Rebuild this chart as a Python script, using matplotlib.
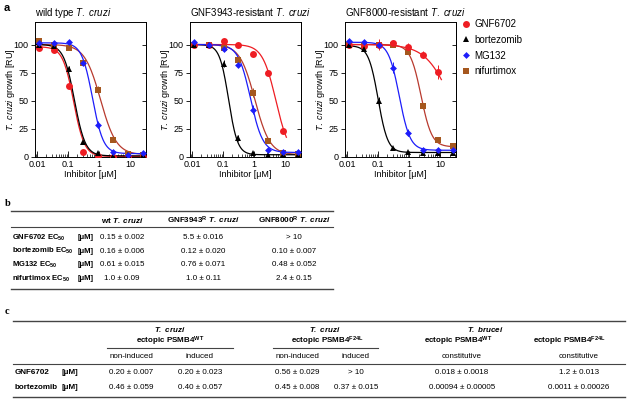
import numpy as np
import matplotlib
matplotlib.use("Agg")
import matplotlib.pyplot as plt
from matplotlib.lines import Line2D

plt.rcParams['font.family'] = ['Liberation Sans', 'DejaVu Sans']
plt.rcParams['mathtext.fontset'] = 'custom'
plt.rcParams['mathtext.rm'] = 'Liberation Sans'
plt.rcParams['mathtext.it'] = 'Liberation Sans:italic'
plt.rcParams['mathtext.bf'] = 'Liberation Sans:bold'
plt.rcParams['mathtext.bfit'] = 'Liberation Sans:italic:bold'

# ---- panel a data ----
compounds = ['GNF6702', 'bortezomib', 'MG132', 'nifurtimox']
conc = [0.0114, 0.0343, 0.103, 0.309, 0.926, 2.78, 8.33, 25.0]   # inhibitor [uM]
panel_titles = [r'wild type $\it{T.\ cruzi}$',
                r'GNF3943-resistant $\it{T.\ cruzi}$',
                r'GNF8000-resistant $\it{T.\ cruzi}$']

# growth [RU], one row per compound (nan = not measured)
growth_wt = [
    [97.3, 95.0, 63.0, 4.5, 0.5, 0.3, 0.3, 0.3],
    [100.0, 98.5, 78.6, 13.4, 3.6, 1.0, 1.5, 1.5],
    [101.5, 101.5, 102.4, 83.7, 28.8, 4.5, 2.0, 3.6],
    [103.0, 100.0, 97.3, 84.0, 60.0, 15.4, 2.5, 2.0],
]
growth_gnf3943r = [
    [100.0, 100.0, 103.0, 99.4, 92.0, 75.0, 23.0, np.nan],
    [99.4, 99.4, 83.0, 17.0, 3.6, 2.0, 2.0, 2.0],
    [102.0, 99.4, 96.4, 82.0, 42.0, 6.0, 4.5, 4.5],
    [100.0, 99.4, 97.0, 86.6, 57.0, 14.0, 3.6, 2.5],
]
growth_gnf8000r = [
    [99.4, 98.5, 100.0, 101.0, 97.5, 91.0, 75.5, np.nan],
    [99.4, 96.4, 49.6, 8.0, 4.5, 3.6, 3.6, 3.6],
    [103.0, 102.0, 100.0, 79.5, 21.7, 6.5, 6.0, 6.0],
    [100.0, 100.0, 100.0, 100.0, 93.4, 45.4, 14.8, 9.5],
]
err_wt = [
    [1, 1, 2, 1, 0, 0, 0, 0],
    [1, 1, 2, 1, 1, 0, 0, 0],
    [1, 1, 1, 2, 3, 1, 1, 1],
    [1, 1, 2, 1, 3, 1, 0, 0],
]
err_gnf3943r = [
    [1, 1, 1, 1, 1, 1, 1, 0],
    [1, 1, 3, 3, 1, 0, 0, 0],
    [1, 1, 2, 2, 4, 2, 1, 1],
    [1, 1, 1, 1, 4, 1, 1, 0],
]
err_gnf8000r = [
    [1, 1, 5, 1, 4, 3, 6, 0],
    [1, 1, 4, 1, 1, 0, 0, 0],
    [1, 1, 1, 5, 3, 1, 1, 1],
    [1, 1, 1, 1, 2, 3, 1, 1],
]
# dose-response fits: top, bottom, EC50 [uM], Hill slope
fit_wt = [[98, 0.5, 0.15, 2.5], [100, 1, 0.16, 2.5], [101.5, 3, 0.61, 2.5], [100, 2, 1.1, 1.7]]
fit_gnf3943r = [[100, 0, 5.0, 2.0], [100, 2, 0.15, 3.0], [100, 4, 0.76, 2.2], [100, 2, 1.05, 1.8]]
fit_gnf8000r = [[100, 0, 23, 1.05], [99, 4, 0.10, 2.8], [102, 6, 0.48, 2.5], [100, 9, 2.4, 2.5]]

# ---- panel b data ----
b_rows = ['GNF6702', 'bortezomib', 'MG132', 'nifurtimox']
b_values = [
    ['0.15 ± 0.002', '5.5 ± 0.016', '> 10'],
    ['0.16 ± 0.006', '0.12 ± 0.020', '0.10 ± 0.007'],
    ['0.61 ± 0.015', '0.76 ± 0.071', '0.48 ± 0.052'],
    ['1.0 ± 0.09', '1.0 ± 0.11', '2.4 ± 0.15'],
]

# ---- panel c data ----
c_rows = ['GNF6702', 'bortezomib']
c_subheads = ['non-induced', 'induced', 'non-induced', 'induced', 'constitutive', 'constitutive']
c_values = [
    ['0.20 ± 0.007', '0.20 ± 0.023', '0.56 ± 0.029', '> 10', '0.018 ± 0.0018', '1.2 ± 0.013'],
    ['0.46 ± 0.059', '0.40 ± 0.057', '0.45 ± 0.008', '0.37 ± 0.015', '0.00094 ± 0.00005', '0.0011 ± 0.00026'],
]

colors = ['#ee1d23', 'black', '#1d1dfa', '#a5571e']
line_colors = ['#ee1d23', 'black', '#1d1dfa', '#b83a2e']
markers = ['o', '^', 'D', 's']
msizes = [5, 5, 3.5, 4.5]

W, H = 627, 404


def fx(x):
    return x / W


def fy(y):
    return 1 - y / H


def hill(x, top, bottom, ec50, h):
    return bottom + (top - bottom) / (1 + (x / ec50) ** h)


def hline(fig, x0, x1, y, lw=0.8, color='#444444'):
    fig.add_artist(Line2D([fx(x0), fx(x1)], [fy(y), fy(y)],
                          transform=fig.transFigure, color=color, lw=lw))


fig = plt.figure(figsize=(6.27, 4.04), dpi=100)

growths = [growth_wt, growth_gnf3943r, growth_gnf8000r]
errs = [err_wt, err_gnf3943r, err_gnf8000r]
fits = [fit_wt, fit_gnf3943r, fit_gnf8000r]
conc_arr = np.array(conc)

for p, left in enumerate([35, 190, 345]):
    ax = fig.add_axes([fx(left), fy(157), 111 / W, 135 / H])
    for k in [3, 0, 1, 2]:
        vals = np.array(growths[p][k], dtype=float)
        ok = ~np.isnan(vals)
        xmax = min(conc_arr[ok][-1] * 1.3, 32)
        xs = np.logspace(np.log10(0.0086), np.log10(xmax), 200)
        ax.plot(xs, hill(xs, *fits[p][k]), color=line_colors[k], lw=0.9, zorder=2)
    for k in [3, 0, 1, 2]:
        vals = np.array(growths[p][k], dtype=float)
        ok = ~np.isnan(vals)
        ax.errorbar(conc_arr[ok], vals[ok], yerr=np.array(errs[p][k])[ok],
                    fmt=markers[k], color=colors[k], ms=msizes[k], mew=0,
                    elinewidth=0.7, capsize=1.5, capthick=0.7, zorder=3)
    ax.set_xscale('log')
    ax.set_xlim(0.0086, 32)
    ax.set_ylim(0, 120)
    ax.set_xticks([0.01, 0.1, 1, 10])
    ax.set_xticklabels(['0.01', '0.1', '1', '10'])
    ax.set_yticks([0, 25, 50, 75, 100])
    ax.tick_params(axis='x', which='major', direction='in', length=4, width=0.6,
                   labelsize=6.5, pad=2)
    ax.tick_params(axis='x', which='minor', direction='in', length=2.5, width=0.5)
    ax.tick_params(axis='y', direction='out', length=3, width=0.6, labelsize=6.5, pad=1.5)
    sec = ax.secondary_yaxis('right')
    sec.set_yticks([0, 25, 50, 75, 100])
    sec.tick_params(direction='in', length=3, width=0.6, labelright=False)
    for s in ax.spines.values():
        s.set_linewidth(0.7)
    sec.spines['right'].set_linewidth(0.7)
    ax.set_title(panel_titles[p], loc='left', fontsize=7, pad=4)
    ax.set_xlabel('Inhibitor [μM]', fontsize=6.5, labelpad=1)
    ax.set_ylabel(r'$\it{T.\ cruzi}$ growth [RU]', fontsize=6.5)
    ax.yaxis.set_label_coords(-0.165, 0.5)

fig.text(fx(4), fy(8), 'a', weight='bold', fontsize=8, va='center')

handles = [Line2D([], [], ls='none', marker=markers[k], color=colors[k], ms=msizes[k], mew=0)
           for k in range(4)]
fig.legend(handles, compounds, loc='upper left', bbox_to_anchor=(fx(462), fy(19)),
           frameon=False, fontsize=7, handlelength=0.8, handletextpad=0.5,
           labelspacing=0.6, borderaxespad=0, borderpad=0)

# ---- table b ----
tfs = 5.8
fig.text(fx(5), fy(204), 'b', family='Liberation Serif', weight='bold', fontsize=7.5, va='center')
hline(fig, 11, 333, 210.5, lw=1.0)
hline(fig, 11, 333, 227.5, lw=0.8)
hline(fig, 11, 333, 289, lw=1.0)
b_heads = [r'wt $\mathbfit{T.\ cruzi}$',
           r'GNF3943$^{\mathbf{R}}$ $\mathbfit{T.\ cruzi}$',
           r'GNF8000$^{\mathbf{R}}$ $\mathbfit{T.\ cruzi}$']
b_xs = [122, 203, 294]
for x, t in zip(b_xs, b_heads):
    fig.text(fx(x), fy(220), t, ha='center', va='center', fontsize=tfs, weight='bold')
for i, y in enumerate([237.5, 251.2, 265, 278.5]):
    fig.text(fx(12), fy(y), b_rows[i] + r' EC$_{\mathbf{50}}$', ha='left', va='center',
             fontsize=5.5, weight='bold')
    fig.text(fx(78), fy(y), '[μM]', ha='left', va='center', fontsize=5.5, weight='bold')
    for x, v in zip(b_xs, b_values[i]):
        fig.text(fx(x), fy(y), v, ha='center', va='center', fontsize=tfs)

# ---- table c ----
fig.text(fx(5), fy(311), 'c', family='Liberation Serif', weight='bold', fontsize=7.5, va='center')
hline(fig, 13, 625, 321, lw=1.0)
hline(fig, 107, 233, 347.5, lw=0.8)
hline(fig, 273, 378, 347.5, lw=0.8)
hline(fig, 13, 625, 363.5, lw=0.8)
hline(fig, 13, 625, 397, lw=1.0)
for x, t in [(170, r'$\mathbfit{T.\ cruzi}$'), (325, r'$\mathbfit{T.\ cruzi}$'),
             (485, r'$\mathbfit{T.\ brucei}$')]:
    fig.text(fx(x), fy(330), t, ha='center', va='center', fontsize=tfs)
for x, sup in [(170, 'WT'), (327, 'F24L'), (458, 'WT'), (569, 'F24L')]:
    fig.text(fx(x), fy(341), r'ectopic PSMB4$^{\mathbf{%s}}$' % sup, ha='center',
             va='center', fontsize=tfs, weight='bold')
c_xs = [131, 200, 297, 356, 462, 579]
for x, t in zip(c_xs, c_subheads):
    fig.text(fx(x), fy(356), t, ha='center', va='center', fontsize=tfs)
for i, y in enumerate([372.5, 387.5]):
    fig.text(fx(15), fy(y), c_rows[i], ha='left', va='center', fontsize=tfs, weight='bold')
    fig.text(fx(62), fy(y), '[μM]', ha='left', va='center', fontsize=tfs, weight='bold')
    for x, v in zip(c_xs, c_values[i]):
        fig.text(fx(x), fy(y), v, ha='center', va='center', fontsize=tfs)

fig.savefig('out.png', dpi=100)
